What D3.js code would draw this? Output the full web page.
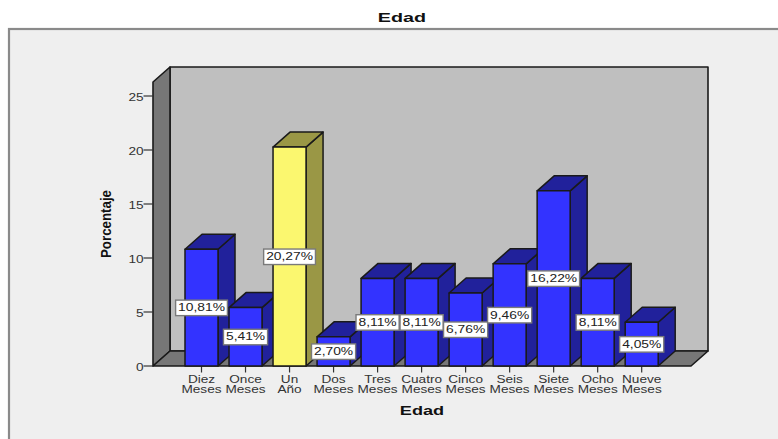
<!DOCTYPE html>
<html>
<head>
<meta charset="utf-8">
<script src="https://cdn.jsdelivr.net/npm/d3@7"></script>
<style>
  html, body { margin: 0; padding: 0; background: #fff; overflow: hidden; }
  svg { display: block; }
  text { font-family: "Liberation Sans", Arial, sans-serif; }
</style>
</head>
<body>
<svg id="chart" width="778" height="439"></svg>
<script>
const categories = ["Diez Meses", "Once Meses", "Un Año", "Dos Meses", "Tres Meses", "Cuatro Meses",
  "Cinco Meses", "Seis Meses", "Siete Meses", "Ocho Meses", "Nueve Meses"];
const percentages = [10.81, 5.41, 20.27, 2.70, 8.11, 8.11, 6.76, 9.46, 16.22, 8.11, 4.05];
const percentageLabels = ["10,81%", "5,41%", "20,27%", "2,70%", "8,11%", "8,11%", "6,76%", "9,46%", "16,22%", "8,11%", "4,05%"];
const yTicks = [0, 5, 10, 15, 20, 25];
const highlightedCategory = "Un Año";
const titleText = "Edad";
const xTitleText = "Edad";
const yTitleText = "Porcentaje";

const svg = d3.select("#chart");

// Plot box of the front plane, plus the oblique offset that gives it depth.
const plot = { left: 153, right: 691, top: 82, bottom: 366 };
const depth = { x: 17, y: -15 };

const y = d3.scaleLinear().domain([0, 25]).range([plot.bottom, 96]);
const x = d3.scaleBand().domain(categories)
  .range([179.5, 663.7]).paddingInner(0.25).paddingOuter(0.125);

const ink = "#1a1a1a";
const poly = pts => pts.map(p => p.join(",")).join(" ");

// Widens text horizontally by a factor, keeping its height.
function stretch(selection, factor) {
  selection.each(function () {
    const len = this.getComputedTextLength();
    d3.select(this).attr("textLength", len * factor).attr("lengthAdjust", "spacingAndGlyphs");
  });
}

// Outer panel
svg.append("rect").attr("x", 9).attr("y", 29).attr("width", 780).attr("height", 420)
  .attr("fill", "#efefef").attr("stroke", "#8a8a8a").attr("stroke-width", 2.2);

svg.append("text").attr("x", 402).attr("y", 22).attr("text-anchor", "middle")
  .attr("font-size", 13).attr("font-weight", "bold")
  .attr("fill", "#111").text(titleText).call(stretch, 1.52);

// Back wall, side wall and floor of the 3D box
const walls = svg.append("g").attr("stroke", ink).attr("stroke-width", 1.6).attr("stroke-linejoin", "round");
walls.append("polygon")
  .attr("points", poly([
    [plot.left + depth.x, plot.top + depth.y], [plot.right + depth.x, plot.top + depth.y],
    [plot.right + depth.x, plot.bottom + depth.y], [plot.left + depth.x, plot.bottom + depth.y]]))
  .attr("fill", "#bfbfbf");
walls.append("polygon")
  .attr("points", poly([
    [plot.left, plot.top], [plot.left + depth.x, plot.top + depth.y],
    [plot.left + depth.x, plot.bottom + depth.y], [plot.left, plot.bottom]]))
  .attr("fill", "#777777");
walls.append("polygon")
  .attr("points", poly([
    [plot.left, plot.bottom], [plot.left + depth.x, plot.bottom + depth.y],
    [plot.right + depth.x, plot.bottom + depth.y], [plot.right, plot.bottom]]))
  .attr("fill", "#777777");

// Y axis ticks
const yAxis = svg.append("g").attr("transform", `translate(${plot.left},0)`)
  .call(d3.axisLeft(y).tickValues(yTicks).tickSize(9.5).tickPadding(0).offset(0).tickFormat(d3.format("d")));
yAxis.select(".domain").remove();
yAxis.selectAll("line").attr("stroke", "#333").attr("stroke-width", 1.2);
yAxis.selectAll("text").attr("font-size", 10).attr("fill", "#333").attr("dy", "0.5em")
  .attr("font-family", '"Liberation Sans", Arial, sans-serif')
  .call(stretch, 1.36);

// X axis ticks, with the two-word category names broken over two lines
const xAxis = svg.append("g").attr("transform", `translate(0,${plot.bottom})`)
  .call(d3.axisBottom(x).tickSize(6.5).offset(0).tickFormat(""));
xAxis.select(".domain").remove();
xAxis.selectAll("line").attr("stroke", "#333").attr("stroke-width", 1.2);

const xLabels = svg.append("g").selectAll("g").data(categories).join("g");
xLabels.each(function (d) {
  const cx = x(d) + x.bandwidth() / 2;
  d.split(" ").forEach((word, i) => {
    d3.select(this).append("text")
      .attr("x", cx).attr("y", 382.5 + i * 10)
      .attr("text-anchor", "middle").attr("font-size", 10).attr("fill", "#333")
      .text(word).call(stretch, 1.36);
  });
});

// Bars: drawn left to right so each one overlaps the side of its neighbour
const colors = d => d === highlightedCategory
  ? { front: "#fbf76f", shade: "#9a9745" }
  : { front: "#3333ff", shade: "#21219b" };

const bars = svg.append("g").selectAll("g").data(categories).join("g")
  .attr("stroke", ink).attr("stroke-width", 1.5).attr("stroke-linejoin", "round");
bars.each(function (d, i) {
  const g = d3.select(this);
  const x0 = x(d), x1 = x0 + x.bandwidth();
  const yt = y(percentages[i]), yb = y(0);
  const c = colors(d);
  g.append("polygon").attr("fill", c.shade)
    .attr("points", poly([[x1, yb], [x1 + depth.x, yb + depth.y], [x1 + depth.x, yt + depth.y], [x1, yt]]));
  g.append("polygon").attr("fill", c.shade)
    .attr("points", poly([[x0, yt], [x0 + depth.x, yt + depth.y], [x1 + depth.x, yt + depth.y], [x1, yt]]));
  g.append("rect").attr("x", x0).attr("y", yt).attr("width", x.bandwidth()).attr("height", yb - yt)
    .attr("fill", c.front);
});

// Value labels centred on each bar's front face
const labels = svg.append("g").selectAll("g").data(categories).join("g")
  .attr("transform", (d, i) => `translate(${x(d) + x.bandwidth() / 2},${y(percentages[i] / 2)})`);
labels.append("text")
  .attr("text-anchor", "middle").attr("dy", "0.36em")
  .attr("font-size", 10).attr("fill", "#222")
  .text((d, i) => percentageLabels[i]).call(stretch, 1.38);
labels.each(function () {
  const g = d3.select(this);
  const w = +g.select("text").attr("textLength") + 5;
  g.insert("rect", "text")
    .attr("x", -w / 2).attr("y", -7.5)
    .attr("width", w).attr("height", 15.5)
    .attr("fill", "#fff").attr("stroke", "#7a7a7a").attr("stroke-width", 1.4);
});

// Axis titles
svg.append("text").attr("x", 422).attr("y", 415).attr("text-anchor", "middle")
  .attr("font-size", 12.5).attr("font-weight", "bold")
  .attr("fill", "#111").text(xTitleText).call(stretch, 1.45);
svg.append("text").attr("transform", "translate(110.5,224) rotate(-90)").attr("text-anchor", "middle")
  .attr("font-size", 15.5).attr("font-weight", "bold").attr("fill", "#111")
  .attr("textLength", 68).attr("lengthAdjust", "spacingAndGlyphs").text(yTitleText);
</script>
</body>
</html>
